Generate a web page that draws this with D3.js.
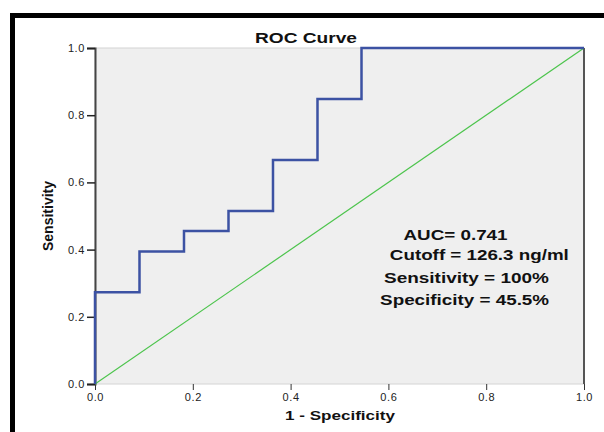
<!DOCTYPE html>
<html>
<head>
<meta charset="utf-8">
<script src="https://cdn.jsdelivr.net/npm/d3@7"></script>
<style>
    body { margin: 0; background: #fff; }
    text { font-family: "Liberation Sans", Arial, sans-serif; }
    .tick text { font-size: 11px; fill: #222; letter-spacing: 0.6px; }
</style>
</head>
<body>
<div id="chart"></div>
<script>
// ROC steps (1 - specificity, sensitivity)
const fpr = [0, 0, 0.091, 0.182, 0.273, 0.364, 0.455, 0.545, 1.0];
const tpr = [0, 0.273, 0.394, 0.455, 0.515, 0.667, 0.848, 1.0, 1.0];
const refLine = [0, 1];
const tickValues = [0, 0.2, 0.4, 0.6, 0.8, 1.0];
const tickLabels = ["0.0", "0.2", "0.4", "0.6", "0.8", "1.0"];
const notes = ["AUC= 0.741", "Cutoff = 126.3 ng/ml", "Sensitivity = 100%", "Specificity = 45.5%"];

const width = 604, height = 432;
const margin = {top: 48, right: 20, bottom: 48, left: 95};

const svg = d3.select("#chart").append("svg")
    .attr("width", width)
    .attr("height", height);

// thick black frame on top and left
svg.append("path")
    .attr("d", `M12.5,432 L12.5,15.5 L604,15.5`)
    .attr("fill", "none")
    .attr("stroke", "#000")
    .attr("stroke-width", 5);

const x = d3.scaleLinear().domain([0, 1]).range([margin.left, width - margin.right]);
const y = d3.scaleLinear().domain([0, 1]).range([height - margin.bottom, margin.top]);

// plot background
svg.append("rect")
    .attr("x", x(0))
    .attr("y", y(1))
    .attr("width", x(1) - x(0))
    .attr("height", y(0) - y(1))
    .attr("fill", "#efefef")
    .attr("stroke", "#d4d4d4")
    .attr("stroke-width", 1);

// right border darker
svg.append("line")
    .attr("x1", x(1)).attr("x2", x(1))
    .attr("y1", y(1)).attr("y2", y(0))
    .attr("stroke", "#555")
    .attr("stroke-width", 2);

// axes
const xAxis = svg.append("g")
    .attr("transform", `translate(0, ${y(0)})`)
    .call(d3.axisBottom(x).tickValues(tickValues).tickFormat((d, i) => tickLabels[i]).tickSize(6).tickPadding(3));
xAxis.select(".domain").remove();
xAxis.selectAll(".tick line").attr("stroke", "#333");

const yAxis = svg.append("g")
    .attr("transform", `translate(${x(0)}, 0)`)
    .call(d3.axisLeft(y).tickValues(tickValues).tickFormat((d, i) => tickLabels[i]).tickSize(8).tickPadding(2));
yAxis.select(".domain").attr("stroke", "#444").attr("stroke-width", 2);
yAxis.selectAll(".tick line").attr("stroke", "#222").attr("stroke-width", 1.5);

// reference diagonal
svg.append("line")
    .attr("x1", x(refLine[0])).attr("y1", y(refLine[0]))
    .attr("x2", x(refLine[1])).attr("y2", y(refLine[1]))
    .attr("stroke", "#4cc44c")
    .attr("stroke-width", 1.2);

// ROC curve
const rocData = fpr.map((d, i) => [d, tpr[i]]);
svg.append("path")
    .datum(rocData)
    .attr("fill", "none")
    .attr("stroke", "#3c52a3")
    .attr("stroke-width", 2.5)
    .attr("d", d3.line()
        .curve(d3.curveStepAfter)
        .x(d => x(d[0]))
        .y(d => y(d[1])));

// title (the original is stretched horizontally)
svg.append("text")
    .attr("x", 255)
    .attr("y", 43)
    .attr("font-size", "14px")
    .attr("font-weight", "bold")
    .attr("textLength", 102)
    .attr("lengthAdjust", "spacingAndGlyphs")
    .attr("fill", "#111")
    .text("ROC Curve");

// axis titles
svg.append("text")
    .attr("x", 285)
    .attr("y", 420)
    .attr("font-size", "13px")
    .attr("font-weight", "bold")
    .attr("textLength", 110)
    .attr("lengthAdjust", "spacingAndGlyphs")
    .attr("fill", "#111")
    .text("1 - Specificity");

svg.append("text")
    .attr("transform", `translate(53, 216) rotate(-90)`)
    .attr("text-anchor", "middle")
    .attr("font-size", "14px")
    .attr("font-weight", "bold")
    .attr("font-family", "'Liberation Sans Narrow', 'DejaVu Sans Condensed', sans-serif")
    .attr("fill", "#111")
    .text("Sensitivity");

// annotations
const noteX = [0.631, 0.603, 0.591, 0.583];
const noteY = [0.43, 0.37, 0.30, 0.235];
const noteLen = [104, 179, 165, 169];
const noteSize = [14, 15, 15, 15];
svg.selectAll(".note").data(notes)
    .enter().append("text")
    .attr("class", "note")
    .attr("x", (d, i) => x(noteX[i]))
    .attr("y", (d, i) => y(noteY[i]))
    .attr("font-size", (d, i) => noteSize[i] + "px")
    .attr("font-weight", "bold")
    .attr("textLength", (d, i) => noteLen[i])
    .attr("lengthAdjust", "spacingAndGlyphs")
    .attr("fill", "#111")
    .text(d => d);
</script>
</body>
</html>
